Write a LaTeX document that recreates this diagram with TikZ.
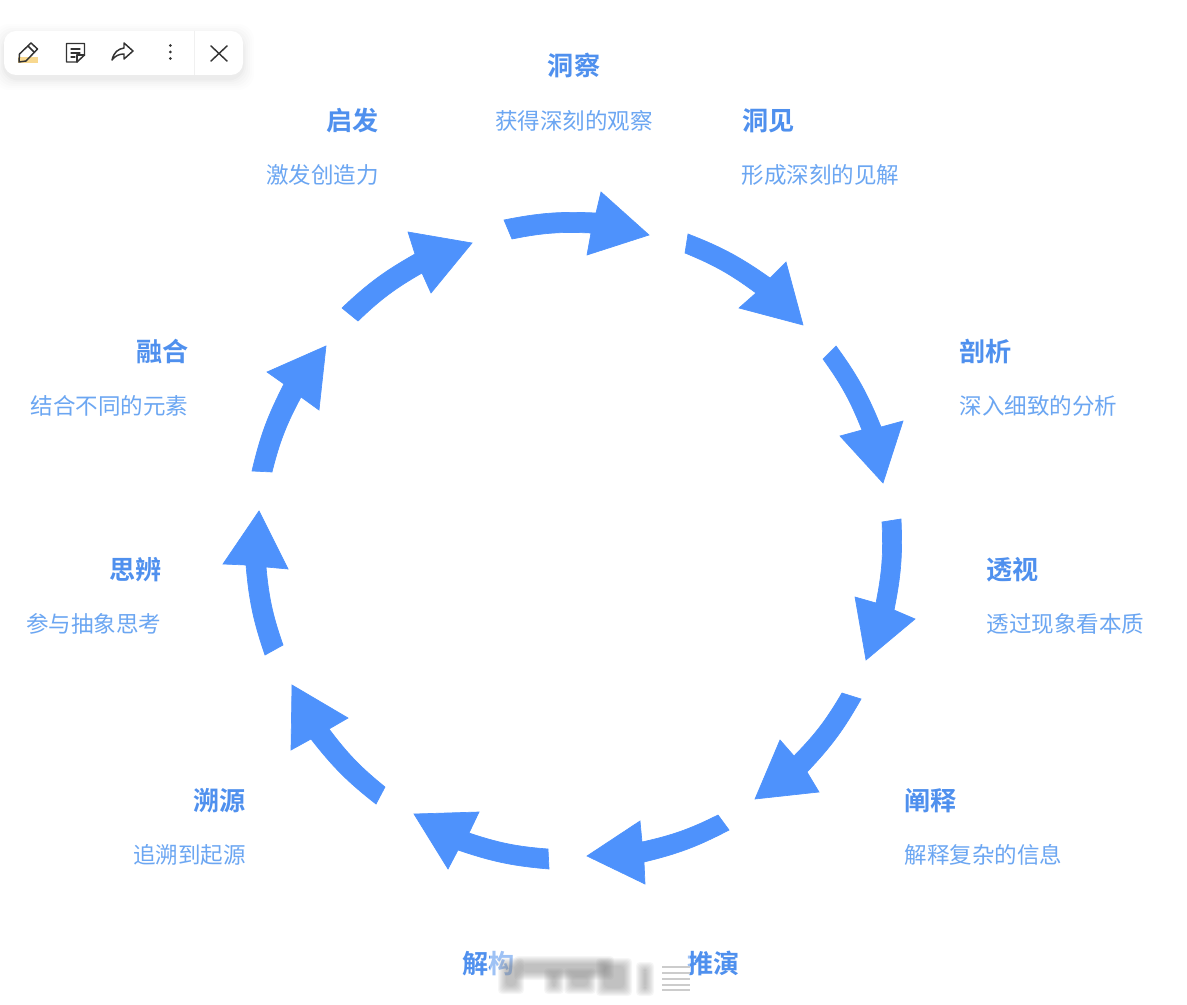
\documentclass[tikz,border=0pt]{standalone}
\usepackage{fontspec}
\newfontfamily\cjk{Noto Sans CJK SC}
\newfontfamily\cjkb{Noto Sans CJK SC Bold}
\definecolor{arrowblue}{HTML}{4E92FC}
\definecolor{titleblue}{HTML}{4F90EE}
\definecolor{subblue}{HTML}{6BA6F2}
\definecolor{icondark}{HTML}{333333}
\definecolor{penmark}{HTML}{F8D88F}
\tikzset{
  bigarrow/.style={fill=arrowblue,draw=arrowblue,line width=0.5pt,line join=miter},
  ttl/.style={text=titleblue,inner sep=0pt,font=\cjkb\fontsize{19.6pt}{22pt}\selectfont},
  sub/.style={text=subblue,inner sep=0pt,font=\cjk\fontsize{16.9pt}{20pt}\selectfont},
  icon/.style={draw=icondark,line width=1.1pt,line join=round,line cap=round},
  smudge/.style={fill=gray,opacity=0.065,draw=none,rounded corners=3pt},
}
% tail outer, neck outer, head outer, tip, head inner, neck inner, tail inner
\newcommand{\curvedarrow}[7]{%
  \filldraw[bigarrow] #1 to[bend left=7] #2 -- #3 -- #4 -- #5 -- #6 to[bend right=7] #7 -- cycle;}
\begin{document}
\begin{tikzpicture}[x=0.75pt,y=-0.75pt]
\useasboundingbox (0,0) rectangle (1187,1005);
\fill[white] (0,0) rectangle (1187,1005);
% arrows
\curvedarrow{(504,220)}{(596,213)}{(601,192)}{(649,235)}{(587,255)}{(591,233)}{(512,239)}
\curvedarrow{(688,234)}{(770,278)}{(786,262)}{(803,325)}{(739,308)}{(756,293)}{(685,253)}
\curvedarrow{(836,346)}{(881,427)}{(903,421)}{(883,483)}{(840,436)}{(862,430)}{(823,359)}
\curvedarrow{(901,519)}{(894,610)}{(915,619)}{(866,660)}{(855,597)}{(876,603)}{(882,522)}
\curvedarrow{(861,699)}{(807,772)}{(819,792)}{(755,799)}{(780,740)}{(794,756)}{(842,693)}
\curvedarrow{(729,830)}{(644,862)}{(645,884)}{(587,856)}{(640,821)}{(642,842)}{(718,815)}
\curvedarrow{(549,869)}{(458,850)}{(448,869)}{(414,814)}{(479,812)}{(469,833)}{(548,849)}
\curvedarrow{(376,804)}{(311,739)}{(291,750)}{(292,685)}{(348,718)}{(329,729)}{(385,787)}
\curvedarrow{(265,655)}{(246,565)}{(223,564)}{(259,511)}{(288,569)}{(266,567)}{(283,645)}
\curvedarrow{(252,471)}{(284,384)}{(267,372)}{(326,346)}{(319,410)}{(301,397)}{(272,472)}
\curvedarrow{(342,308)}{(415,254)}{(408,232)}{(472,243)}{(431,293)}{(422,273)}{(358,321)}
% labels
\node[ttl] (t1) at (574,65.3) {洞察};
\node[sub] (s1) at (574,121) {获得深刻的观察};
\node[ttl,anchor=west] (t2) at (742,120.3) {洞见};
\node[sub,anchor=west] (s2) at (741.5,175) {形成深刻的见解};
\node[ttl,anchor=west] (t3) at (959.5,351.3) {剖析};
\node[sub,anchor=west] (s3) at (959.5,406) {深入细致的分析};
\node[ttl,anchor=west] (t4) at (986.5,569.3) {透视};
\node[sub,anchor=west] (s4) at (986.5,624) {透过现象看本质};
\node[ttl,anchor=west] (t5) at (904.5,800.3) {阐释};
\node[sub,anchor=west] (s5) at (904.5,855) {解释复杂的信息};
\node[ttl,anchor=west] (t6) at (687,963.3) {推演};
\node[ttl,anchor=east] (t7) at (515,963.3) {解构};
\node[ttl,anchor=east] (t8) at (246,800.3) {溯源};
\node[sub,anchor=east] (s8) at (246,855) {追溯到起源};
\node[ttl,anchor=east] (t9) at (162,569.3) {思辨};
\node[sub,anchor=east] (s9) at (161.5,624) {参与抽象思考};
\node[ttl,anchor=east] (t10) at (189,351.3) {融合};
\node[sub,anchor=east] (s10) at (188.5,406) {结合不同的元素};
\node[ttl,anchor=east] (t11) at (379,120.3) {启发};
\node[sub,anchor=east] (s11) at (379,175) {激发创造力};
% blurred patch over the bottom labels
\fill[white,opacity=0.45] (490,948) rectangle (690,996);
\foreach \g in {-4,-3,-2,-1,0,1,2,3,4}{
  \fill[smudge] (502+\g,962+\g) rectangle (520-\g,990-\g);
  \fill[smudge] (518+\g,960+\g) rectangle (610-\g,976-\g);
  \fill[smudge] (548+\g,972+\g) rectangle (560-\g,990-\g);
  \fill[smudge] (568+\g,972+\g) rectangle (592-\g,990-\g);
  \fill[smudge] (600+\g,962+\g) rectangle (628-\g,992-\g);
  \fill[smudge] (640+\g,966+\g) rectangle (650-\g,992-\g);
}
\foreach \yy in {967,973,979,985,990}
  \draw[gray!40,line width=0.9pt] (662,\yy) -- (690,\yy);
% toolbar shadow
\foreach \g/\o in {11/0.006,9/0.008,7/0.010,5/0.012,3/0.015,1.5/0.018}
  \fill[black,opacity=\o,rounded corners=12pt] (4-\g,31-\g+4) rectangle (243+\g,75+\g+4);
% toolbar
\fill[white,rounded corners=9pt] (4,31) rectangle (243,75);
\draw[gray!12,line width=0.6pt] (194,31) -- (194,75);
% pencil
\fill[penmark] (18,57) rectangle (38,63);
\draw[icon] (19,62) -- (19.5,54) -- (31,43) -- (37.5,49) -- (26,61) -- cycle;
\draw[icon] (28,46) -- (34.5,52.5);
% note
\draw[icon] (66.5,43.5) -- (84.5,43.5) -- (84.5,55) -- (77,62) -- (66.5,62) -- cycle;
\draw[icon] (77,62) -- (77,55) -- (84.5,55);
\draw[icon,line width=0.9pt] (71,49) -- (80,49) (71,53) -- (80,53) (71,57) -- (75,57);
% share
\draw[icon] (112,60) .. controls (114,52) and (118,49) .. (124,48) -- (124,43) -- (133,51) -- (124,59) -- (124,54) .. controls (119,54) and (115,56) .. (112,60) -- cycle;
% dots
\foreach \yy in {45.5,52,58.5} \fill[icondark] (170.3,\yy) circle (1.5);
% close
\draw[icon] (211,46) -- (227,61) (227,46) -- (211,61);
\end{tikzpicture}
\end{document}
